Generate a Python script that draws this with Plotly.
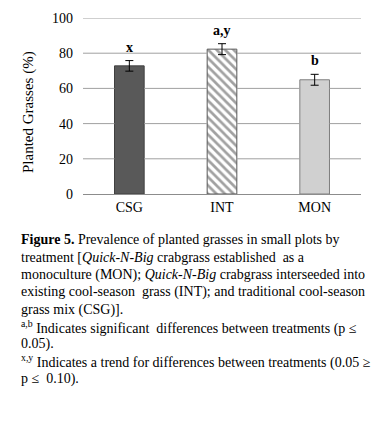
import plotly.graph_objects as go

categories = ["CSG", "INT", "MON"]
values = [72.8, 82.3, 64.9]
errors = [3.0, 3.1, 3.1]
sig_letters = ["x", "a,y", "b"]
y_ticks = [0, 20, 40, 60, 80, 100]
y_title = "Planted Grasses (%)"

caption_lines = [
    "<b>Figure 5.</b> Prevalence of planted grasses in small plots by",
    "treatment [<i>Quick-N-Big</i> crabgrass established  as a",
    "monoculture (MON); <i>Quick-N-Big</i> crabgrass interseeded into",
    "existing cool-season  grass (INT); and traditional cool-season",
    "grass mix (CSG)].",
    "<sup>a,b</sup> Indicates significant  differences between treatments (p ≤",
    "0.05).",
    "<sup>x,y</sup> Indicates a trend for differences between treatments (0.05 ≥",
    "p ≤  0.10).",
]

# page has an 8px body margin; figure is sized to fit inside the window
W, H = 384, 416
ML, MR, MT, MB = 75, 31, 10, 230
PW = W - ML - MR
PH = H - MT - MB
FONT = "Liberation Serif, Times New Roman, serif"
BAR_W = 0.32

pos = list(range(len(categories)))
x_lo, x_hi = -0.5, len(categories) - 0.5

fig = go.Figure()
fig.add_trace(go.Bar(
    x=pos, y=values,
    width=BAR_W,
    marker=dict(
        color=["#595959", "#ffffff", "#d0d0d0"],
        line=dict(color=["#404040", "#595959", "#7f7f7f"], width=1),
        pattern=dict(shape=["", "\\", ""], fgcolor="#404040", bgcolor="#ffffff",
                     fillmode="overlay", size=6, solidity=0.45),
    ),
    error_y=dict(type="data", array=errors, color="#000000", thickness=1, width=4),
    showlegend=False,
))

# horizontal gridlines at the y ticks, interrupted where a bar covers them
gx, gy = [], []
for t in y_ticks[1:]:
    xs = [x_lo]
    for i, v in zip(pos, values):
        if v > t:
            xs += [i - BAR_W / 2, None, i + BAR_W / 2]
    xs.append(x_hi)
    gx += xs + [None]
    gy += [t if x is not None else None for x in xs] + [None]
fig.add_trace(go.Scatter(x=gx, y=gy, mode="lines", connectgaps=False,
                         line=dict(color="#a0a0a0", width=1),
                         hoverinfo="skip", showlegend=False))

for i, v, e, t in zip(pos, values, errors, sig_letters):
    fig.add_annotation(x=i, y=v + e, xref="x", yref="y", text=f"<b>{t}</b>",
                       showarrow=False, yanchor="bottom", yshift=4,
                       font=dict(family=FONT, size=14, color="#000"))

def py(p):
    return (MT + PH - p) / PH

def px(p):
    return (p - ML) / PW

fig.add_annotation(x=px(20), xref="paper", y=py(104), yref="paper", text=y_title,
                   textangle=-90, showarrow=False, xanchor="center", yanchor="middle",
                   font=dict(family=FONT, size=15, color="#000"))

line_y0 = 232
line_step = 17.4
for i, ln in enumerate(caption_lines):
    fig.add_annotation(x=px(11), xref="paper",
                       y=py(line_y0 + i * line_step), yref="paper",
                       text=ln, showarrow=False, xanchor="left", yanchor="middle",
                       align="left", font=dict(family=FONT, size=14, color="#000"))

fig.update_layout(
    width=W, height=H,
    margin=dict(l=ML, r=MR, t=MT, b=MB, autoexpand=False),
    paper_bgcolor="#ffffff", plot_bgcolor="#ffffff",
    font=dict(family=FONT, size=14, color="#000"),
    xaxis=dict(type="linear", range=[x_lo, x_hi], tickvals=pos, ticktext=categories,
               showline=True, linecolor="#8c8c8c", linewidth=1, ticks="",
               showgrid=False, zeroline=False,
               tickfont=dict(family=FONT, size=14)),
    yaxis=dict(range=[0, 100], tickvals=y_ticks, showgrid=False,
               zeroline=False, showline=False, ticks="", ticklabelstandoff=9,
               tickfont=dict(family=FONT, size=14)),
)

fig.write_html("out.html")
